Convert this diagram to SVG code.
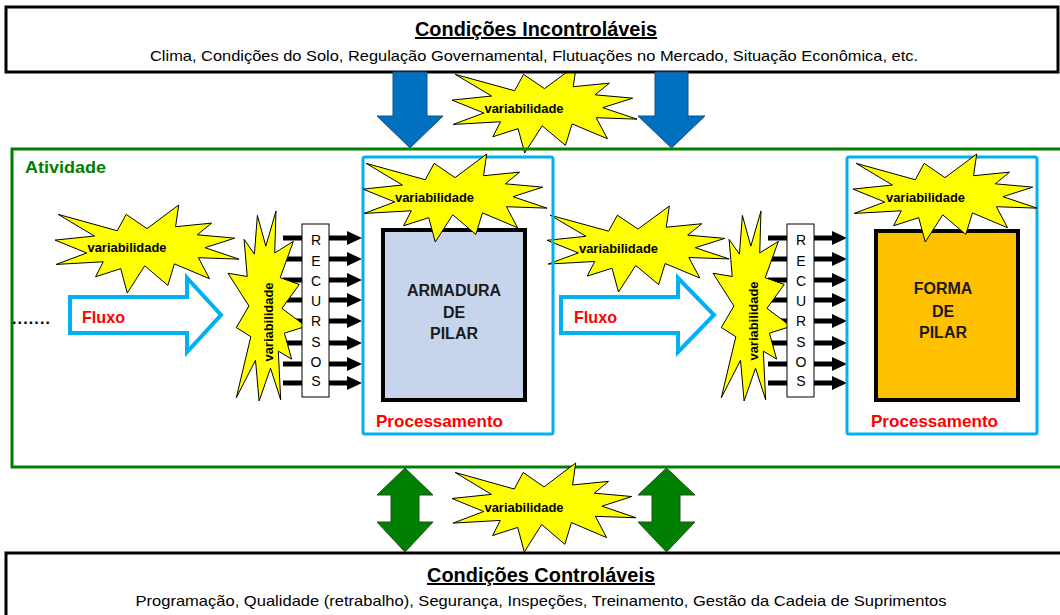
<svg xmlns="http://www.w3.org/2000/svg" xmlns:xlink="http://www.w3.org/1999/xlink" width="1060" height="615" viewBox="0 0 1060 615">
<style>
.frame{fill:#fff;stroke:#000;stroke-width:3}
.title{font-family:"Liberation Sans",Arial,sans-serif;font-weight:bold;font-size:20px;text-decoration:underline;fill:#000}
.sub{font-family:"Liberation Sans",Arial,sans-serif;font-size:15px;fill:#000}
.var{font-family:"Liberation Sans",Arial,sans-serif;font-weight:bold;font-size:13px;fill:#000}
.proc{fill:none;stroke:#00B0F0;stroke-width:3}
.proclbl{font-family:"Liberation Sans",Arial,sans-serif;font-weight:bold;font-size:17px;fill:#FF0000}
.inner{stroke:#000;stroke-width:4}
.big{font-family:"Liberation Sans",Arial,sans-serif;font-weight:bold;font-size:16px;fill:#1a1a1a}
.rec{fill:#fff;stroke:#000;stroke-width:1}
.reclbl{font-family:"Liberation Sans",Arial,sans-serif;font-size:14px;fill:#000}
.flux{fill:#fff;stroke:#00B0F0;stroke-width:4}
.bluearr{fill:#0070C0;stroke:#1F4E79;stroke-width:1}
.greenarr{fill:#008000;stroke:#264d1a;stroke-width:1}
</style>
<defs>
<polygon id="seal" fill="#FFFF00" stroke="#000" stroke-width="1" vector-effect="non-scaling-stroke" points="50,26.85 67.23,0 65.53,24.65 85.09,20.63 77.32,33.87 97.67,37.67 81.51,48.5 100,61.53 77.95,59.92 84,83.77 64.91,66.93 61.33,91.38 48.76,69.14 39.28,100 35.72,72.35 22.05,81.56 26.24,64.52 0.63,67.53 17.23,54.51 0,39.88 21.42,35.26 1.71,10.63 33.85,29.26 38.67,10.63"/>
<path id="ra" d="M0,-2.5 H64 V-7 L79,0 L64,7 V2.5 H0 Z" fill="#000"/>
</defs>

<g id="var-top">
<use xlink:href="#seal" transform="translate(452,65) scale(1.85,0.88)"/>
</g>

<g id="uncontrolled">
<rect class="frame" x="6" y="7" width="1052" height="65"/>
<text class="title" x="536" y="36" text-anchor="middle" textLength="242" lengthAdjust="spacingAndGlyphs">Condições Incontroláveis</text>
<text class="sub" x="534" y="61" text-anchor="middle" textLength="768" lengthAdjust="spacingAndGlyphs">Clima, Condições do Solo, Regulação Governamental, Flutuações no Mercado, Situação Econômica, etc.</text>
</g>

<g id="atividade">
<rect x="12" y="149" width="1060" height="318" fill="none" stroke="#008000" stroke-width="3"/>
<text x="25" y="173" font-family="Liberation Sans, Arial, sans-serif" font-weight="bold" font-size="16" fill="#008000" textLength="81" lengthAdjust="spacingAndGlyphs">Atividade</text>
</g>

<g id="controlled">
<rect class="frame" x="6" y="553" width="1070" height="80"/>
<text class="title" x="541" y="582" text-anchor="middle" textLength="228" lengthAdjust="spacingAndGlyphs">Condições Controláveis</text>
<text class="sub" x="541" y="606" text-anchor="middle" textLength="811" lengthAdjust="spacingAndGlyphs">Programação, Qualidade (retrabalho), Segurança, Inspeções, Treinamento, Gestão da Cadeia de Suprimentos</text>
</g>

<g id="connectors">
<polygon class="bluearr" points="393,72 427,72 427,116 443,116 410,148 377,116 393,116"/>
<polygon class="bluearr" points="655,72 688,72 688,116 705,116 671.5,148 638,116 655,116"/>
<polygon class="greenarr" points="405,468 433,495 419,495 419,522 433,522 405,552 377,522 391,522 391,495 377,495"/>
<polygon class="greenarr" points="666.5,468 695,495 680,495 680,522 695,522 666.5,552 638,522 652,522 652,495 638,495"/>
<use xlink:href="#ra" x="283" y="238"/>
<use xlink:href="#ra" x="283" y="259"/>
<use xlink:href="#ra" x="283" y="280"/>
<use xlink:href="#ra" x="283" y="300"/>
<use xlink:href="#ra" x="283" y="321"/>
<use xlink:href="#ra" x="283" y="343"/>
<use xlink:href="#ra" x="283" y="364"/>
<use xlink:href="#ra" x="283" y="383"/>
<use xlink:href="#ra" x="768" y="238"/>
<use xlink:href="#ra" x="768" y="259"/>
<use xlink:href="#ra" x="768" y="280"/>
<use xlink:href="#ra" x="768" y="300"/>
<use xlink:href="#ra" x="768" y="321"/>
<use xlink:href="#ra" x="768" y="343"/>
<use xlink:href="#ra" x="768" y="364"/>
<use xlink:href="#ra" x="768" y="383"/>
</g>

<g id="dots">
<text x="12" y="324" font-family="Liberation Sans, Arial, sans-serif" font-weight="bold" font-size="16" fill="#000" textLength="38" lengthAdjust="spacing">.......</text>
</g>

<g id="fluxo1">
<polygon class="flux" points="70,297 187,297 187,278 221,315 187,352 187,333 70,333"/>
<text class="proclbl" x="82" y="323" textLength="43" lengthAdjust="spacingAndGlyphs">Fluxo</text>
</g>
<g id="fluxo2">
<polygon class="flux" points="561,297 678,297 678,278 714,315 678,352 678,333 561,333"/>
<text class="proclbl" x="574" y="323" textLength="43" lengthAdjust="spacingAndGlyphs">Fluxo</text>
</g>

<g id="var-left">
<use xlink:href="#seal" transform="translate(55,205) scale(1.84,0.88)"/>
<text class="var" x="127" y="252" text-anchor="middle" textLength="79" lengthAdjust="spacingAndGlyphs">variabilidade</text>
</g>

<g id="var-mid">
<use xlink:href="#seal" transform="translate(547,206) scale(1.82,0.86)"/>
<text class="var" x="618.5" y="253" text-anchor="middle" textLength="79" lengthAdjust="spacingAndGlyphs">variabilidade</text>
</g>

<g id="var-vert1">
<use xlink:href="#seal" transform="translate(267,306) rotate(-90) translate(-95,-39) scale(1.9,0.78)"/>
<text class="var" transform="translate(273,322) rotate(-90)" text-anchor="middle" textLength="79" lengthAdjust="spacingAndGlyphs">variabilidade</text>
</g>
<g id="var-vert2">
<use xlink:href="#seal" transform="translate(752,306) rotate(-90) translate(-95,-39) scale(1.9,0.78)"/>
<text class="var" transform="translate(758,321) rotate(-90)" text-anchor="middle" textLength="79" lengthAdjust="spacingAndGlyphs">variabilidade</text>
</g>

<g id="recursos1">
<rect class="rec" x="302" y="224" width="27" height="173"/>
<text class="reclbl" text-anchor="middle">
<tspan x="316" y="245">R</tspan><tspan x="316" y="266">E</tspan><tspan x="316" y="286">C</tspan><tspan x="316" y="306">U</tspan><tspan x="316" y="326">R</tspan><tspan x="316" y="347">S</tspan><tspan x="316" y="367">O</tspan><tspan x="316" y="386">S</tspan>
</text>
</g>
<g id="recursos2">
<rect class="rec" x="787" y="224" width="27" height="173"/>
<text class="reclbl" text-anchor="middle">
<tspan x="801" y="245">R</tspan><tspan x="801" y="266">E</tspan><tspan x="801" y="286">C</tspan><tspan x="801" y="306">U</tspan><tspan x="801" y="326">R</tspan><tspan x="801" y="347">S</tspan><tspan x="801" y="367">O</tspan><tspan x="801" y="386">S</tspan>
</text>
</g>

<g id="processamento1">
<rect class="proc" x="363" y="157" width="190" height="277" rx="2"/>
<rect class="inner" x="383" y="230" width="142" height="170" fill="#C6D5EB"/>
<text class="big" text-anchor="middle"><tspan x="454" y="296">ARMADURA</tspan><tspan x="454" y="318">DE</tspan><tspan x="454" y="339">PILAR</tspan></text>
<text class="proclbl" x="376" y="427" textLength="127" lengthAdjust="spacingAndGlyphs">Processamento</text>
</g>
<g id="var-proc1">
<use xlink:href="#seal" transform="translate(363,154) scale(1.84,0.88)"/>
<text class="var" x="434.5" y="202" text-anchor="middle" textLength="79" lengthAdjust="spacingAndGlyphs">variabilidade</text>
</g>

<g id="processamento2">
<rect class="proc" x="847" y="157" width="190" height="277" rx="2"/>
<rect class="inner" x="876" y="231" width="142" height="169" fill="#FFC000"/>
<text class="big" text-anchor="middle"><tspan x="943" y="294">FORMA</tspan><tspan x="943" y="317">DE</tspan><tspan x="943" y="338">PILAR</tspan></text>
<text class="proclbl" x="871" y="427" textLength="127" lengthAdjust="spacingAndGlyphs">Processamento</text>
</g>
<g id="var-proc2">
<use xlink:href="#seal" transform="translate(853,154) scale(1.84,0.88)"/>
<text class="var" x="925.5" y="202" text-anchor="middle" textLength="79" lengthAdjust="spacingAndGlyphs">variabilidade</text>
</g>

<g id="var-top-label">
<text class="var" x="524" y="113" text-anchor="middle" textLength="79" lengthAdjust="spacingAndGlyphs">variabilidade</text>
</g>

<g id="var-bottom">
<use xlink:href="#seal" transform="translate(452,463) scale(1.84,0.89)"/>
<text class="var" x="524" y="512" text-anchor="middle" textLength="79" lengthAdjust="spacingAndGlyphs">variabilidade</text>
</g>
</svg>
